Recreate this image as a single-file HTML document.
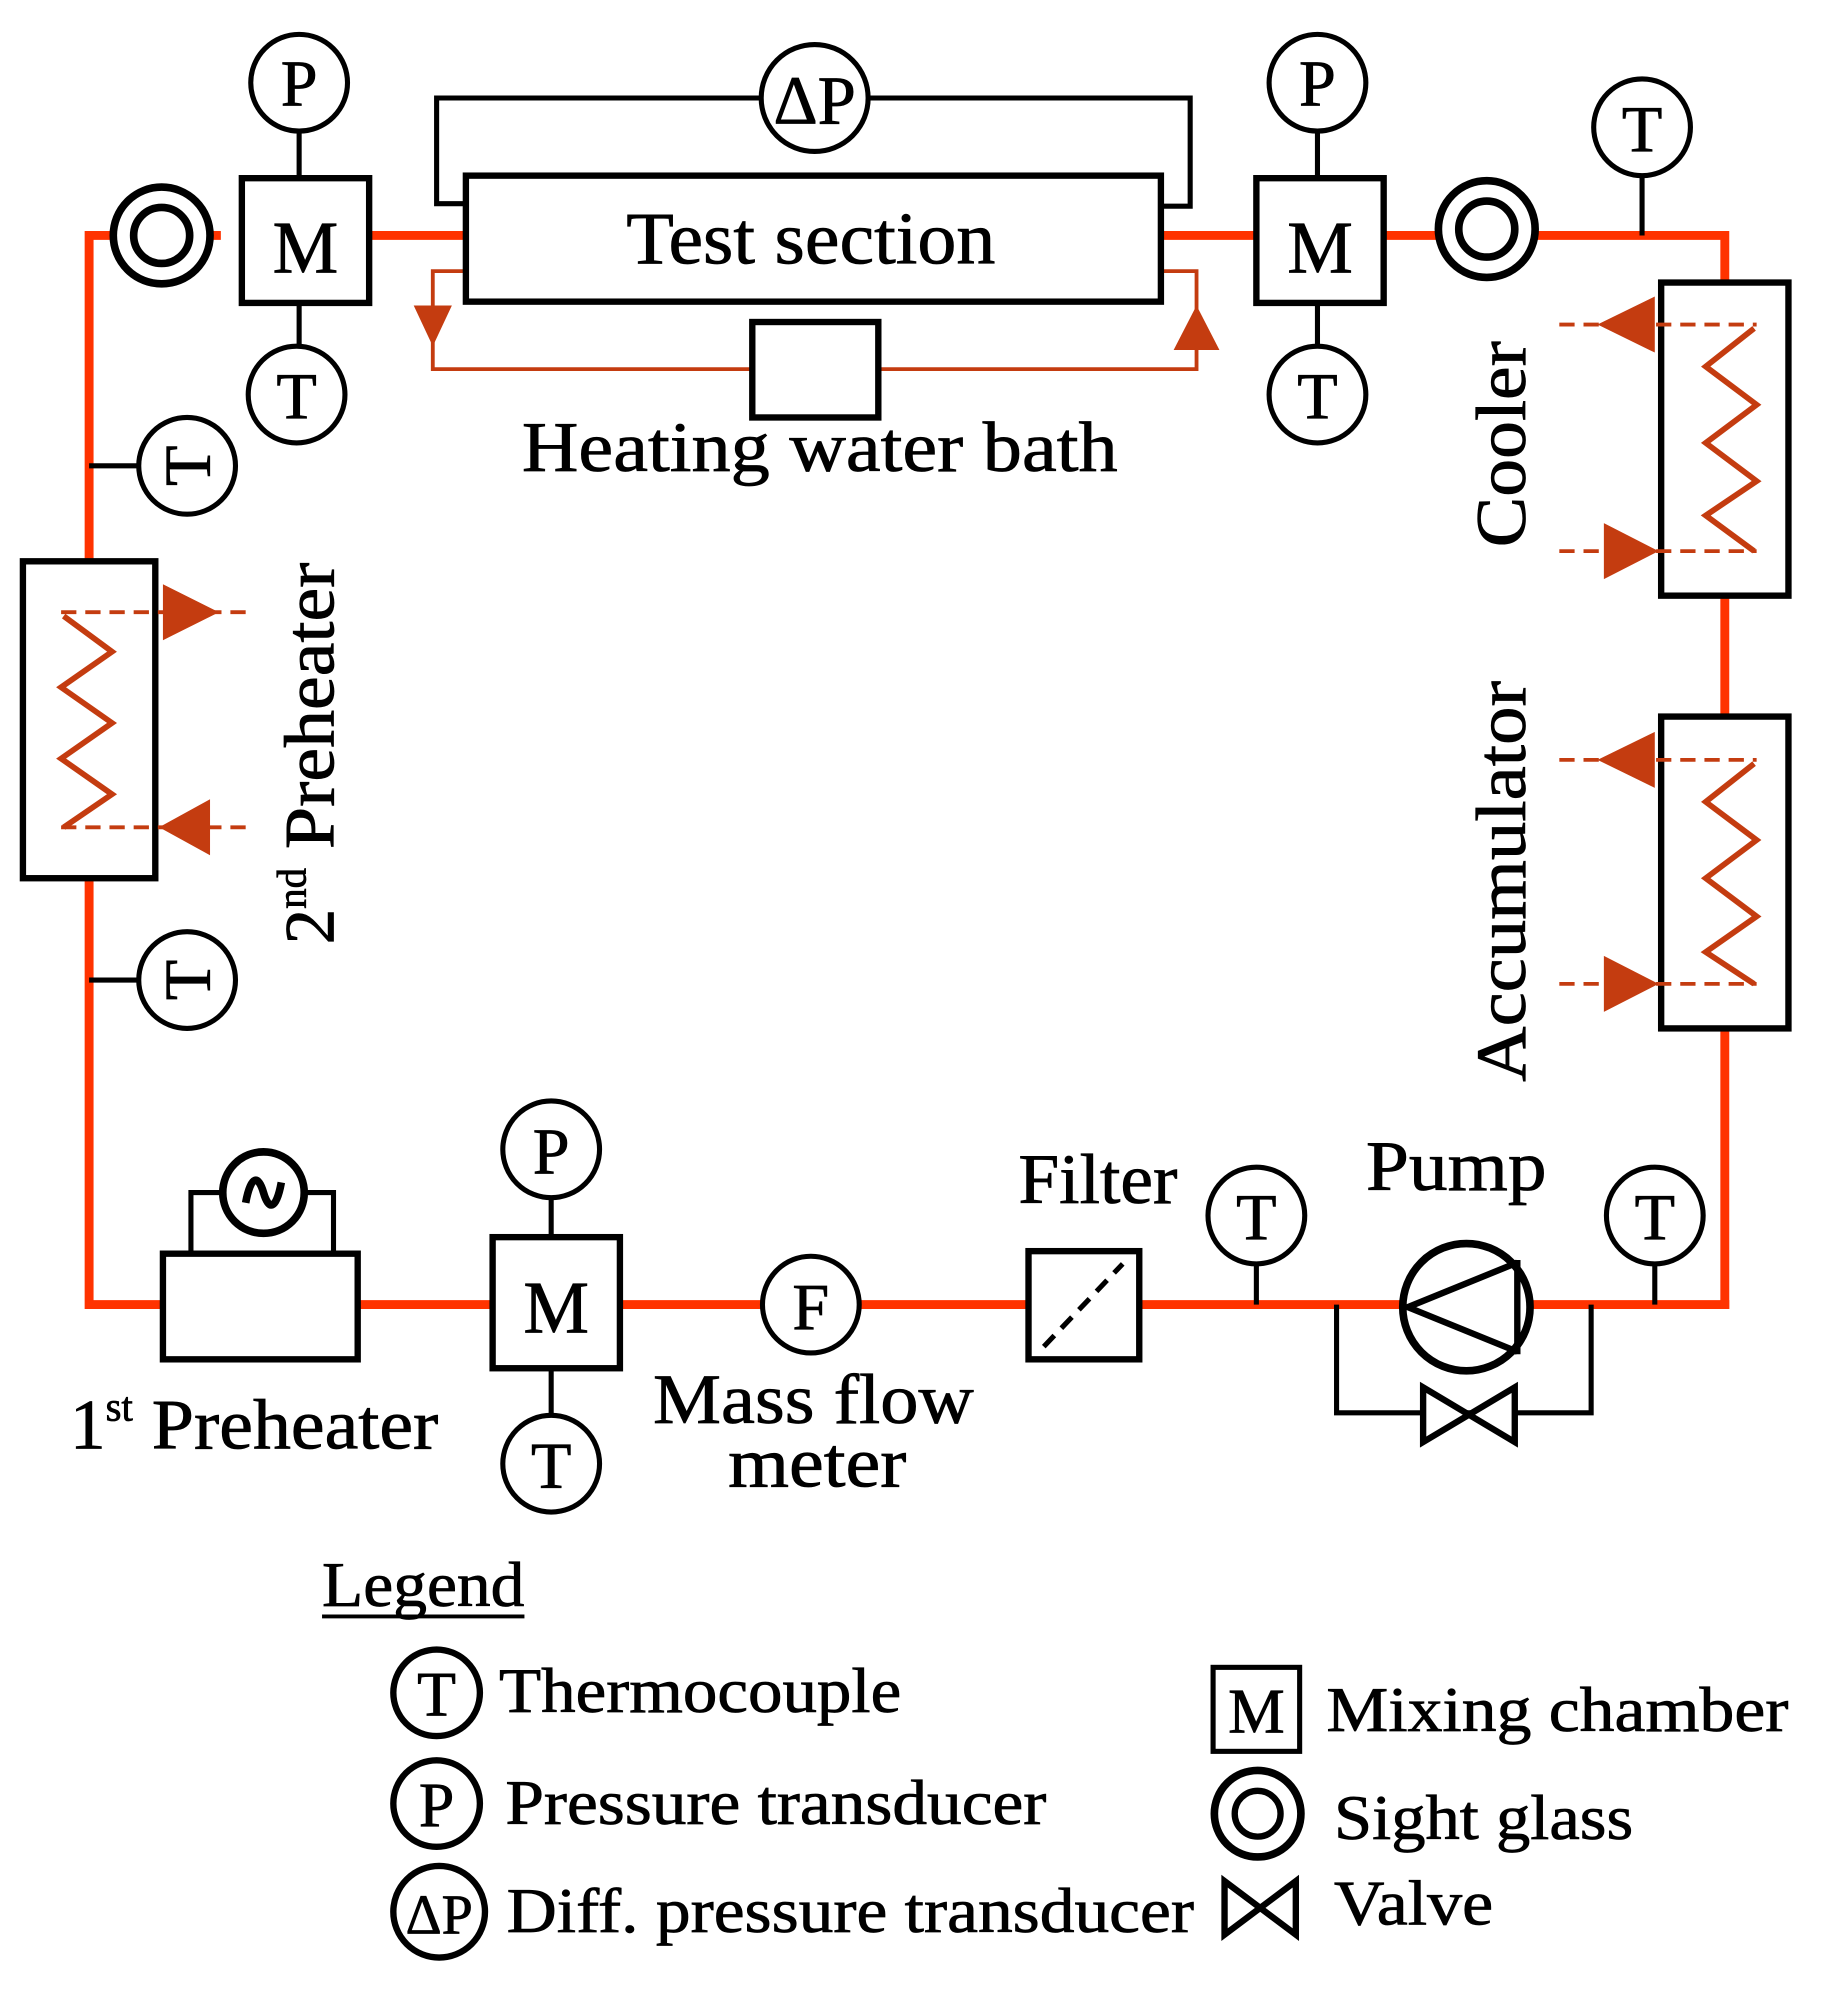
<!DOCTYPE html>
<html><head><meta charset="utf-8"><style>
html,body{margin:0;padding:0;background:#fff;}
svg{display:block;}
text{font-family:"Liberation Serif",serif;fill:#000;stroke:#000;stroke-width:0.6;}
</style></head><body>
<svg width="1833" height="2011" viewBox="0 0 1440 1580" preserveAspectRatio="none" xmlns="http://www.w3.org/2000/svg">
<g stroke-linecap="square">
<polyline points="170,185 70,185 70,1025 128,1025" fill="none" stroke="#ff3300" stroke-width="7"/>
<line x1="281" y1="1025" x2="1355" y2="1025" stroke="#ff3300" stroke-width="7"/>
<polyline points="1355,1025 1355,185 1200,185" fill="none" stroke="#ff3300" stroke-width="7"/>
<line x1="290" y1="185" x2="366" y2="185" stroke="#ff3300" stroke-width="7"/>
<line x1="912" y1="185" x2="1140" y2="185" stroke="#ff3300" stroke-width="7"/>
</g>
<polyline points="366,213 340,213 340,290 940,290 940,213 912,213" fill="none" stroke="#c43c10" stroke-width="3"/>
<polygon points="325,240 355,240 340,272" fill="#c43c10"/>
<polygon points="922,275 958,275 940,240" fill="#c43c10"/>
<rect x="591" y="253" width="99" height="75" fill="#fff" stroke="#000" stroke-width="5"/>
<polyline points="366,160 343,160 343,77 935,77 935,162 912,162" fill="none" stroke="#000" stroke-width="4"/>
<rect x="366" y="138" width="546" height="99" fill="#fff" stroke="#000" stroke-width="5"/>
<text x="492" y="207" font-size="58" textLength="290" lengthAdjust="spacingAndGlyphs">Test section</text>
<circle cx="640" cy="77" r="42" fill="#fff" stroke="#000" stroke-width="4"/>
<text x="640" y="97" font-size="54" text-anchor="middle">ΔP</text>
<text x="410" y="370" font-size="56" textLength="468" lengthAdjust="spacingAndGlyphs">Heating  water bath</text>

<g stroke="#000" stroke-width="4" fill="#fff">
<line x1="235" y1="100" x2="235" y2="140"/>
<line x1="235" y1="238" x2="235" y2="272"/>
<circle cx="127" cy="185" r="38" stroke-width="6"/>
<circle cx="127" cy="185" r="22" stroke-width="6"/>
<rect x="190" y="140" width="100" height="98" stroke-width="5"/>
<circle cx="235" cy="65" r="38"/>
<circle cx="233" cy="310" r="38"/>
<line x1="1035" y1="100" x2="1035" y2="140"/>
<line x1="1035" y1="238" x2="1035" y2="272"/>
<rect x="987" y="140" width="100" height="98" stroke-width="5"/>
<circle cx="1035" cy="65" r="38"/>
<circle cx="1035" cy="310" r="38"/>
<circle cx="1168" cy="180" r="38" stroke-width="6"/>
<circle cx="1168" cy="180" r="22" stroke-width="6"/>
<line x1="1290" y1="138" x2="1290" y2="185"/>
<circle cx="1290" cy="100" r="38"/>
<line x1="70" y1="366" x2="110" y2="366"/>
<circle cx="147" cy="366" r="38"/>
<line x1="70" y1="770" x2="110" y2="770"/>
<circle cx="147" cy="770" r="38"/>
<rect x="128" y="985" width="153" height="83" stroke-width="5"/>
<polyline points="150,985 150,937 262,937 262,985" fill="none"/>
<circle cx="207" cy="937" r="32" stroke-width="6"/>
<line x1="433" y1="938" x2="433" y2="972"/>
<line x1="433" y1="1075" x2="433" y2="1112"/>
<rect x="387" y="972" width="100" height="103" stroke-width="5"/>
<circle cx="433" cy="903" r="38"/>
<circle cx="433" cy="1150" r="38"/>
<circle cx="637" cy="1025" r="38"/>
<rect x="808" y="983" width="87" height="85" stroke-width="5"/>
<line x1="987" y1="992" x2="987" y2="1025"/>
<circle cx="987" cy="955" r="38"/>
<line x1="1300" y1="992" x2="1300" y2="1025"/>
<circle cx="1300" cy="955" r="38"/>
<polyline points="1050,1025 1050,1110 1250,1110 1250,1025" fill="none"/>
<circle cx="1152" cy="1027" r="50" stroke-width="6"/>
</g>
<path d="M207,937 m-14,8 c4,-22 10,-22 14,-8 c4,14 10,14 14,-8" fill="none" stroke="#000" stroke-width="6"/>
<line x1="820" y1="1058" x2="882" y2="993" stroke="#000" stroke-width="4" stroke-dasharray="12,8"/>
<polyline points="1192,992 1106,1027 1192,1062" fill="none" stroke="#000" stroke-width="5"/>
<line x1="1192" y1="990" x2="1192" y2="1064" stroke="#000" stroke-width="5"/>
<polygon points="1118,1090 1118,1133 1190,1090 1190,1133" fill="#fff" stroke="#000" stroke-width="5"/>

<g fill="none">
<rect x="1305" y="222" width="100" height="246" stroke="#000" stroke-width="5" fill="#fff"/>
<rect x="1305" y="563" width="100" height="245" stroke="#000" stroke-width="5" fill="#fff"/>
<rect x="18" y="441" width="104" height="249" stroke="#000" stroke-width="5" fill="#fff"/>
<g stroke="#c43c10" stroke-width="3">
<line x1="1225" y1="255" x2="1380" y2="255" stroke-dasharray="12,7"/>
<line x1="1225" y1="433" x2="1380" y2="433" stroke-dasharray="12,7"/>
<line x1="1225" y1="597" x2="1380" y2="597" stroke-dasharray="12,7"/>
<line x1="1225" y1="773" x2="1380" y2="773" stroke-dasharray="12,7"/>
<line x1="48" y1="481" x2="200" y2="481" stroke-dasharray="12,7"/>
<line x1="48" y1="650" x2="200" y2="650" stroke-dasharray="12,7"/>
</g>
<g stroke="#c43c10" stroke-width="4.5">
<polyline points="1378,258 1340,288 1380,318 1340,348 1380,378 1340,405 1378,433"/>
<polyline points="1378,600 1340,630 1380,660 1340,690 1380,720 1340,748 1378,773"/>
<polyline points="50,484 88,512 48,540 88,568 48,596 88,624 50,650"/>
</g>
</g>
<g fill="#c43c10">
<polygon points="1255,255 1300,233 1300,277"/>
<polygon points="1303,433 1260,411 1260,455"/>
<polygon points="1255,597 1300,575 1300,619"/>
<polygon points="1303,773 1260,751 1260,795"/>
<polygon points="172,481 128,459 128,503"/>
<polygon points="125,650 165,628 165,672"/>
</g>

<g font-size="52" text-anchor="middle">
<text x="235" y="83">P</text>
<text x="233" y="329">T</text>
<text x="1035" y="83">P</text>
<text x="1035" y="329">T</text>
<text x="1290" y="119">T</text>
<text x="433" y="922">P</text>
<text x="433" y="1169">T</text>
<text x="637" y="1044">F</text>
<text x="987" y="974">T</text>
<text x="1300" y="974">T</text>
<text transform="translate(147,366) rotate(-90)" y="18">T</text>
<text transform="translate(147,770) rotate(-90)" y="18">T</text>
</g>
<g font-size="58" text-anchor="middle">
<text x="240" y="214">M</text>
<text x="1037" y="214">M</text>
<text x="437" y="1047">M</text>
</g>
<g font-size="56">
<text transform="translate(1198,430) rotate(-90)" textLength="162" lengthAdjust="spacingAndGlyphs">Cooler</text>
<text transform="translate(1198,850) rotate(-90)" textLength="315" lengthAdjust="spacingAndGlyphs">Accumulator</text>
<text transform="translate(262,742) rotate(-90)">2<tspan font-size="32" dy="-22">nd</tspan><tspan dy="22" textLength="240" lengthAdjust="spacingAndGlyphs"> Preheater</tspan></text>
<text x="55" y="1138">1<tspan font-size="32" dy="-22">st</tspan><tspan dy="22" textLength="240" lengthAdjust="spacingAndGlyphs"> Preheater</tspan></text>
<text x="513" y="1118" textLength="252" lengthAdjust="spacingAndGlyphs">Mass flow</text>
<text x="572" y="1168" textLength="140" lengthAdjust="spacingAndGlyphs">meter</text>
<text x="800" y="945" textLength="125" lengthAdjust="spacingAndGlyphs">Filter</text>
<text x="1073" y="935" textLength="142" lengthAdjust="spacingAndGlyphs">Pump</text>
</g>

<text x="253" y="1262" font-size="50" textLength="159" lengthAdjust="spacingAndGlyphs">Legend</text>
<line x1="253" y1="1270" x2="412" y2="1270" stroke="#000" stroke-width="3"/>
<g stroke="#000" stroke-width="5" fill="#fff">
<circle cx="343" cy="1330" r="34"/>
<circle cx="343" cy="1417" r="34"/>
<circle cx="345" cy="1502" r="36"/>
<rect x="953" y="1310" width="68" height="66" stroke-width="4"/>
<circle cx="988" cy="1425" r="34" stroke-width="6"/>
<circle cx="988" cy="1425" r="18" stroke-width="5"/>
<polygon points="962,1478 962,1520 1018,1478 1018,1520"/>
</g>
<g font-size="50">
<text x="343" y="1348" text-anchor="middle">T</text>
<text x="343" y="1435" text-anchor="middle">P</text>
<text x="345" y="1519" text-anchor="middle" font-size="44">ΔP</text>
<text x="987" y="1361" text-anchor="middle">M</text>
<text x="392" y="1345" textLength="316" lengthAdjust="spacingAndGlyphs">Thermocouple</text>
<text x="397" y="1433" textLength="425" lengthAdjust="spacingAndGlyphs">Pressure transducer</text>
<text x="398" y="1518" textLength="540" lengthAdjust="spacingAndGlyphs">Diff. pressure transducer</text>
<text x="1042" y="1360" textLength="363" lengthAdjust="spacingAndGlyphs">Mixing  chamber</text>
<text x="1048" y="1445" textLength="235" lengthAdjust="spacingAndGlyphs">Sight glass</text>
<text x="1048" y="1512" textLength="125" lengthAdjust="spacingAndGlyphs">Valve</text>
</g>
</svg>
</body></html>
